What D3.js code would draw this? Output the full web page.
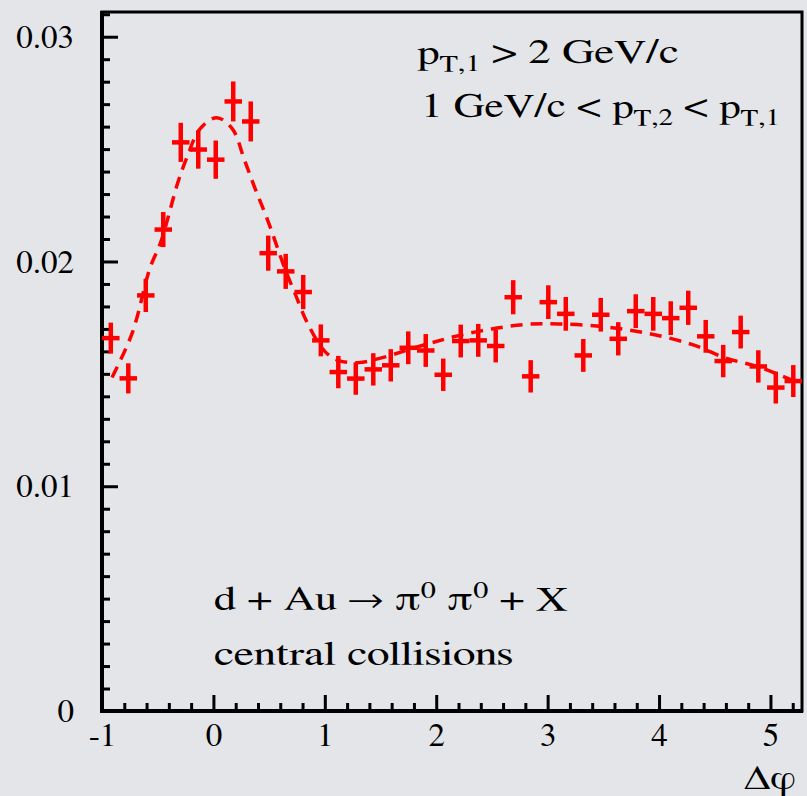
<!DOCTYPE html>
<html>
<head>
<meta charset="utf-8">
<script src="https://cdn.jsdelivr.net/npm/d3@7"></script>
<style>
  html, body { margin: 0; padding: 0; background: #e3e5e9; }
  svg { display: block; }
</style>
</head>
<body>
<div id="chart"></div>
<script>
// ---- data ----
const phi = [-0.921, -0.764, -0.607, -0.450, -0.293, -0.136, 0.021, 0.178, 0.335, 0.492,
             0.649, 0.806, 0.964, 1.121, 1.278, 1.435, 1.592, 1.749, 1.906, 2.063,
             2.220, 2.377, 2.534, 2.691, 2.848, 3.006, 3.163, 3.320, 3.477, 3.634,
             3.791, 3.948, 4.105, 4.262, 4.419, 4.576, 4.733, 4.891, 5.048, 5.205];
const yields = [0.01659, 0.01480, 0.01849, 0.02142, 0.02530, 0.02498, 0.02453, 0.02712, 0.02623, 0.02037,
                0.01956, 0.01864, 0.01649, 0.01508, 0.01479, 0.01520, 0.01538, 0.01616, 0.01604, 0.01496,
                0.01646, 0.01649, 0.01624, 0.01841, 0.01489, 0.01819, 0.01767, 0.01582, 0.01763, 0.01656,
                0.01779, 0.01767, 0.01748, 0.01794, 0.01667, 0.01557, 0.01686, 0.01533, 0.01439, 0.01468];
const errors = [0.00069, 0.00067, 0.00074, 0.00078, 0.00087, 0.00085, 0.00085, 0.00089, 0.00089, 0.00078,
                0.00078, 0.00076, 0.00071, 0.00072, 0.00072, 0.00072, 0.00072, 0.00073, 0.00073, 0.00072,
                0.00073, 0.00073, 0.00073, 0.00076, 0.00072, 0.00075, 0.00075, 0.00073, 0.00075, 0.00074,
                0.00075, 0.00075, 0.00075, 0.00076, 0.00073, 0.00072, 0.00073, 0.00072, 0.00071, 0.00071];
const binHalfWidth = 0.0785;
const fitX = [-0.91, -0.73, -0.57, -0.47, -0.32, -0.24, -0.12, 0.03, 0.17, 0.28,
              0.37, 0.49, 0.64, 0.73, 0.85, 1.0, 1.12, 1.3, 1.5, 1.9,
              2.2, 2.5, 2.8, 3.1, 3.5, 3.9, 4.3, 4.6, 4.9, 5.2];
const fitY = [0.01484, 0.0168, 0.0197, 0.0209, 0.0235, 0.0246, 0.0259, 0.0264, 0.0259, 0.0245,
              0.0233, 0.0218, 0.0197, 0.0186, 0.0172, 0.0160, 0.0156, 0.0155, 0.0157, 0.0163,
              0.0167, 0.0170, 0.0172, 0.01722, 0.0171, 0.0168, 0.0163, 0.0157, 0.0153, 0.0147];
const xMajorTicks = [-1, 0, 1, 2, 3, 4, 5];
const xTickLabels = ["-1", "0", "1", "2", "3", "4", "5"];
const yMajorTicks = [0, 0.01, 0.02, 0.03];
const yTickLabels = ["0", "0.01", "0.02", "0.03"];

// ---- layout ----
const W = 807, H = 796;
const mLeft = 102, mRight = 802, mTop = 12, mBottom = 711;
const FONT = '"FreeSerif"';
const svg = d3.select("#chart").append("svg").attr("width", W).attr("height", H);
svg.append("rect").attr("width", W).attr("height", H).attr("fill", "#e3e5e9");

const x = d3.scaleLinear().domain([-1, 2 * Math.PI - 1]).range([mLeft, mRight]);
const y = d3.scaleLinear().domain([0, 0.0311]).range([mBottom, mTop]);

// frame
svg.append("rect").attr("x", mLeft).attr("y", mTop).attr("width", mRight - mLeft).attr("height", mBottom - mTop)
  .attr("fill", "none").attr("stroke", "#000").attr("stroke-width", 3);

// minor ticks
const xMinor = d3.range(-5, 27).map(k => +(k / 5).toFixed(2))
  .filter(v => v >= -1 && v <= 5.21 && Math.abs(v - Math.round(v)) > 1e-6);
const yMinor = d3.range(0, 32).map(k => +(k * 0.001).toFixed(4))
  .filter(v => !yMajorTicks.some(t => Math.abs(t - v) < 1e-7));

const xAxisMinor = d3.axisBottom(x).tickValues(xMinor).tickSize(-8).tickFormat("");
const xAxisMajor = d3.axisBottom(x).tickValues(xMajorTicks).tickSize(-16).tickPadding(12)
  .tickFormat((d, i) => xTickLabels[i]);
const yAxisMinor = d3.axisLeft(y).tickValues(yMinor).tickSize(-8).tickFormat("");
const yAxisMajor = d3.axisLeft(y).tickValues(yMajorTicks).tickSize(-16).tickPadding(28)
  .tickFormat((d, i) => yTickLabels[i]);

function styleAxis(g) {
  g.attr("font-family", null);
  g.select(".domain").remove();
  g.selectAll(".tick line").attr("stroke", "#000").attr("stroke-width", 3);
  g.selectAll(".tick text").style("font-family", FONT).style("font-size", "33px").attr("fill", "#000");
}
svg.append("g").attr("transform", `translate(0,${mBottom})`).call(xAxisMinor).call(styleAxis);
svg.append("g").attr("transform", `translate(0,${mBottom})`).call(xAxisMajor).call(styleAxis);
svg.append("g").attr("transform", `translate(${mLeft},0)`).call(yAxisMinor).call(styleAxis);
svg.append("g").attr("transform", `translate(${mLeft},0)`).call(yAxisMajor).call(styleAxis);

// axes lines (thicker)
svg.append("line").attr("x1", mLeft).attr("x2", mLeft).attr("y1", mTop - 1).attr("y2", mBottom + 2)
  .attr("stroke", "#000").attr("stroke-width", 4);
svg.append("line").attr("x1", mLeft - 2).attr("x2", mRight + 1).attr("y1", mBottom).attr("y2", mBottom)
  .attr("stroke", "#000").attr("stroke-width", 4);

// fit curve
const fitData = fitX.map((v, i) => [v, fitY[i]]);
svg.append("path").datum(fitData)
  .attr("d", d3.line().x(d => x(d[0])).y(d => y(d[1])).curve(d3.curveCatmullRom.alpha(0.5)))
  .attr("fill", "none").attr("stroke", "#ff0000").attr("stroke-width", 3.5)
  .attr("stroke-dasharray", "12,8");

// data points with error bars
const pts = phi.map((p, i) => ({ p, v: yields[i], e: errors[i] }));
const g = svg.append("g").attr("stroke", "#ff0000").attr("stroke-width", 4.5);
g.selectAll("line.v").data(pts).join("line").attr("class", "v")
  .attr("x1", d => x(d.p)).attr("x2", d => x(d.p))
  .attr("y1", d => y(d.v - d.e)).attr("y2", d => y(d.v + d.e));
g.selectAll("line.h").data(pts).join("line").attr("class", "h")
  .attr("x1", d => x(d.p - binHalfWidth)).attr("x2", d => x(d.p + binHalfWidth))
  .attr("y1", d => y(d.v)).attr("y2", d => y(d.v));

// texts (the annotation lettering is horizontally widened in the original)
function txt(xp, yp, sx) {
  return svg.append("g").attr("transform", `translate(${xp},${yp}) scale(${sx},1)`)
    .append("text").attr("x", 0).attr("y", 0)
    .style("font-family", FONT).style("font-size", "34px").attr("fill", "#000");
}
const t1 = txt(417, 63, 1.32);
t1.append("tspan").text("p");
t1.append("tspan").style("font-size", "23px").attr("dy", 8).text("T,1");
t1.append("tspan").attr("dy", -8).text(" > 2 GeV/c");

const t2 = txt(421, 117, 1.27);
t2.append("tspan").text("1 GeV/c < p");
t2.append("tspan").style("font-size", "23px").attr("dy", 8).text("T,2");
t2.append("tspan").attr("dy", -8).text(" < p");
t2.append("tspan").style("font-size", "23px").attr("dy", 8).text("T,1");

const t3 = txt(214, 610, 1.31);
t3.append("tspan").text("d + Au → π");
t3.append("tspan").style("font-size", "23px").attr("dy", -12).text("0");
t3.append("tspan").attr("dy", 12).text(" π");
t3.append("tspan").style("font-size", "23px").attr("dy", -12).text("0");
t3.append("tspan").attr("dy", 12).text(" + X");

txt(214, 665, 1.34).text("central collisions");

txt(796, 789, 1.2).attr("text-anchor", "end").text("Δφ");
</script>
</body>
</html>
